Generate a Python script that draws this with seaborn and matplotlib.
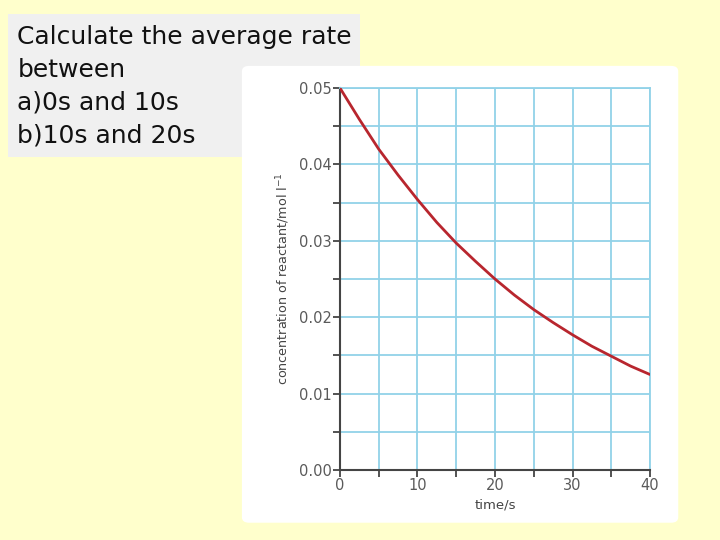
import numpy as np
import pandas as pd
import seaborn as sns
import matplotlib.pyplot as plt
from matplotlib.patches import Rectangle, FancyBboxPatch
from matplotlib.ticker import MultipleLocator

#values
time_s = [0, 2.5, 5, 7.5, 10, 12.5, 15, 17.5, 20, 22.5, 25, 27.5, 30, 32.5, 35, 37.5, 40]
conc = [0.0500, 0.0459, 0.0420, 0.0386, 0.0354, 0.0324, 0.0297, 0.0273, 0.0250,
        0.0229, 0.0210, 0.0193, 0.0177, 0.0162, 0.0149, 0.0136, 0.0125]
question = ["Calculate the average rate", "between", "a)0s and 10s", "b)10s and 20s"]

df = pd.DataFrame({"time": time_s, "conc": conc})

sns.set_style("white")
plt.rcParams['font.family'] = ['DejaVu Sans']

fig = plt.figure(figsize=(7.2, 5.4), dpi=100)
fig.patch.set_facecolor("#FFFFCC")

#grey question box, then white panel for the graph
fig.patches.append(Rectangle((0.011, 0.709), 0.489, 0.265, transform=fig.transFigure,
                             facecolor="#F0F0F0", edgecolor="none", zorder=-2))
fig.patches.append(FancyBboxPatch((0.336, 0.032), 0.606, 0.846, boxstyle="round,pad=0,rounding_size=0.01",
                                  transform=fig.transFigure, facecolor="white", edgecolor="none", zorder=-1))

for i, line in enumerate(question):
    fig.text(0.024, 0.932 - i * 0.061, line, fontsize=18, color="#111111", va="center", ha="left")

ax = fig.add_axes([0.4722, 0.1296, 0.4306, 0.7074])
ax.set_facecolor("none")
sns.lineplot(data=df, x="time", y="conc", ax=ax, color="#B8262E", linewidth=2, zorder=5)

ax.set_xlim(0, 40)
ax.set_ylim(0, 0.05)
ax.xaxis.set_major_locator(MultipleLocator(10))
ax.xaxis.set_minor_locator(MultipleLocator(5))
ax.yaxis.set_major_locator(MultipleLocator(0.01))
ax.yaxis.set_minor_locator(MultipleLocator(0.005))
ax.set_yticks(ax.get_yticks())
ax.set_yticklabels([f"{v:.2f}" for v in ax.get_yticks()])
ax.set_ylim(0, 0.05)
ax.grid(True, which="both", color="#92D2E8", linewidth=1.3, zorder=1)
ax.set_axisbelow(True)

for side in ["top", "right"]:
    ax.spines[side].set_color("#92D2E8")
    ax.spines[side].set_linewidth(1.3)
for side in ["left", "bottom"]:
    ax.spines[side].set_color("#444444")
    ax.spines[side].set_linewidth(1.5)

ax.tick_params(which="both", direction="out", length=5, width=1.3, color="#444444",
               left=True, bottom=True, labelsize=10.5, labelcolor="#5A5A5A", pad=1)
ax.set_xlabel("time/s", fontsize=9.5, color="#444444", labelpad=4)
ax.set_ylabel("concentration of reactant/mol l$^{-1}$", fontsize=9.2, color="#444444", labelpad=5)

fig.savefig("out.png", dpi=100, facecolor=fig.get_facecolor())
